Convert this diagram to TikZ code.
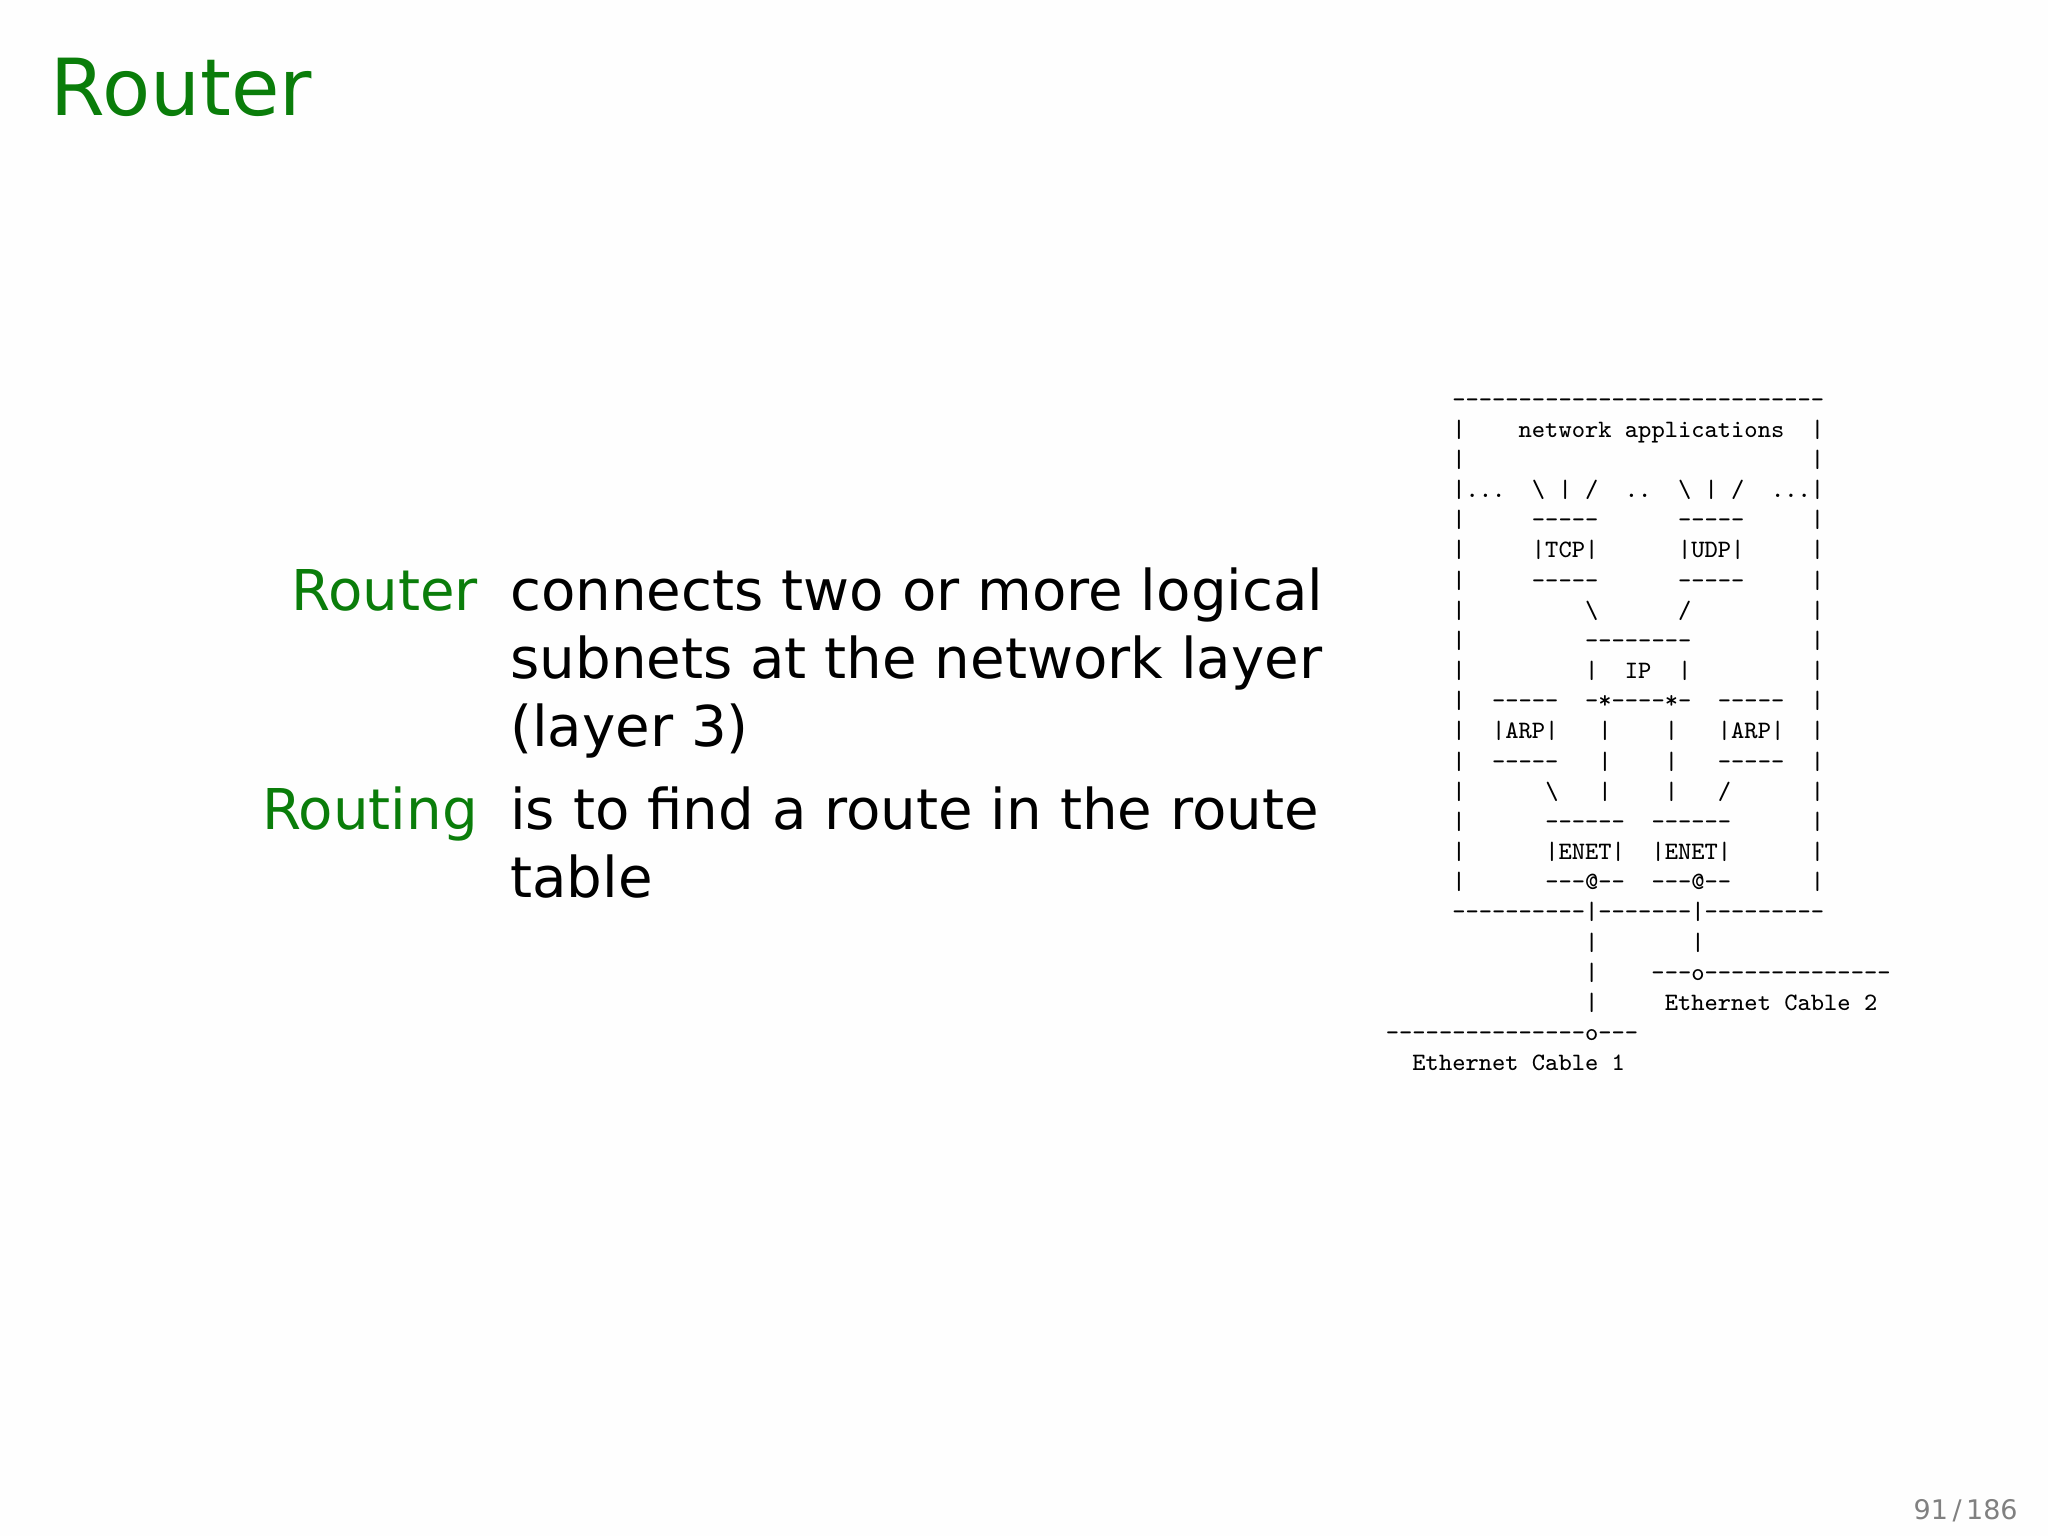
\documentclass[tikz,border=0pt]{standalone}
\usepackage{fontspec}
\setmainfont{DejaVu Sans}
\setmonofont{Latin Modern Mono}
\definecolor{sgreen}{RGB}{10,125,10}
\begin{document}
\begin{tikzpicture}[
  asc/.style={anchor=base west,inner sep=0pt,font=\fontsize{5.56pt}{6.7pt}\selectfont\ttfamily\frenchspacing},
  lab/.style={anchor=base east,inner sep=0pt,text=sgreen,font=\fontsize{12.5pt}{15.06pt}\selectfont},
  body/.style={anchor=base west,inner sep=0pt,font=\fontsize{12.5pt}{15.06pt}\selectfont}]
\useasboundingbox[fill=gray!1] (0,0) rectangle (16,12);
\node[anchor=base west,inner sep=0pt,text=sgreen,font=\fontsize{17.5pt}{20pt}\selectfont] (title) at (0.39,11.1) {Router};
\node[lab] (l1) at (3.74,7.23) {Router};
\node[body] (b1) at (3.98,7.23) {\begin{tabular}[t]{@{}l@{}}connects two or more logical\\subnets at the network layer\\(layer 3)\end{tabular}};
\node[lab] (l2) at (3.74,5.52) {Routing};
\node[body] (b2) at (3.98,5.52) {\begin{tabular}[t]{@{}l@{}}is to find a route in the route\\table\end{tabular}};
\node[anchor=base east,inner sep=0pt,text=gray,font=\fontsize{6pt}{7pt}\selectfont] (pg) at (15.77,0.13) {91\,/\,186};
\def\rs{0.2357}
\foreach \i/\t in {
0/{~~~~~----------------------------},
1/{~~~~~|~~~~network~applications~~|},
2/{~~~~~|~~~~~~~~~~~~~~~~~~~~~~~~~~|},
3/{~~~~~|...~~\textbackslash{}~|~/~~..~~\textbackslash{}~|~/~~...|},
4/{~~~~~|~~~~~-----~~~~~~-----~~~~~|},
5/{~~~~~|~~~~~|TCP|~~~~~~|UDP|~~~~~|},
6/{~~~~~|~~~~~-----~~~~~~-----~~~~~|},
7/{~~~~~|~~~~~~~~~\textbackslash{}~~~~~~/~~~~~~~~~|},
8/{~~~~~|~~~~~~~~~--------~~~~~~~~~|},
9/{~~~~~|~~~~~~~~~|~~IP~~|~~~~~~~~~|},
10/{~~~~~|~~-----~~-*----*-~~-----~~|},
11/{~~~~~|~~|ARP|~~~|~~~~|~~~|ARP|~~|},
12/{~~~~~|~~-----~~~|~~~~|~~~-----~~|},
13/{~~~~~|~~~~~~\textbackslash{}~~~|~~~~|~~~/~~~~~~|},
14/{~~~~~|~~~~~~------~~------~~~~~~|},
15/{~~~~~|~~~~~~|ENET|~~|ENET|~~~~~~|},
16/{~~~~~|~~~~~~---@--~~---@--~~~~~~|},
17/{~~~~~----------|-------|---------},
18/{~~~~~~~~~~~~~~~|~~~~~~~|},
19/{~~~~~~~~~~~~~~~|~~~~---o--------------},
20/{~~~~~~~~~~~~~~~|~~~~~Ethernet~Cable~2},
21/{---------------o---},
22/{~~Ethernet~Cable~1}}
  \node[asc] (r\i) at (10.82,8.82-\i*\rs) {\t};
\end{tikzpicture}
\end{document}
